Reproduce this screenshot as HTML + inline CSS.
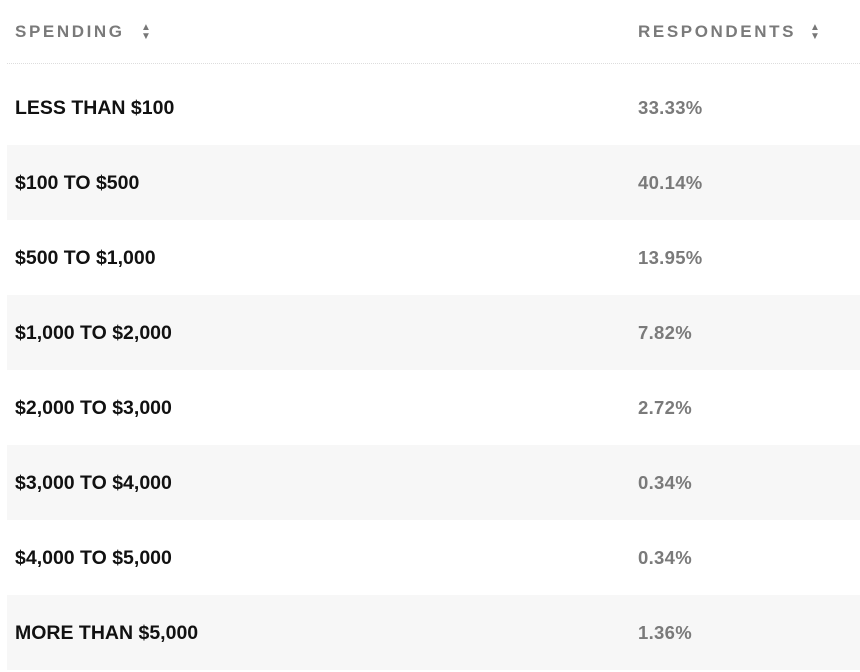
<!DOCTYPE html>
<html><head><meta charset="utf-8"><style>
body{margin:0;width:860px;height:672px;background:#fff;font-family:"Liberation Sans",Arial,sans-serif;position:relative;overflow:hidden}
.h{position:absolute;top:22px;font-size:17px;font-weight:bold;color:#7a7a7a;letter-spacing:2.6px}
.arr{position:absolute;top:1px;font-size:10px;line-height:9px;letter-spacing:0;color:#777}
.line{position:absolute;left:7px;right:0;top:63px;border-top:1px dotted #ddd}
.row{position:absolute;left:7px;right:0;height:75px}
.row.s{background:#f7f7f7}
.l{position:absolute;left:8px;top:27px;font-size:19.5px;font-weight:bold;color:#111;letter-spacing:0px}
.v{position:absolute;left:631px;top:27px;font-size:18.5px;font-weight:bold;color:#7a7a7a;letter-spacing:0.3px}
</style></head><body>
<div class="h" style="left:15px">SPENDING<span class="arr" style="left:126px">▲<br>▼</span></div>
<div class="h" style="left:638px">RESPONDENTS<span class="arr" style="left:172px">▲<br>▼</span></div>
<div class="line"></div>
<div class="row" style="top:70px"><span class="l">LESS THAN $100</span><span class="v">33.33%</span></div>
<div class="row s" style="top:145px"><span class="l">$100 TO $500</span><span class="v">40.14%</span></div>
<div class="row" style="top:220px"><span class="l">$500 TO $1,000</span><span class="v">13.95%</span></div>
<div class="row s" style="top:295px"><span class="l">$1,000 TO $2,000</span><span class="v">7.82%</span></div>
<div class="row" style="top:370px"><span class="l">$2,000 TO $3,000</span><span class="v">2.72%</span></div>
<div class="row s" style="top:445px"><span class="l">$3,000 TO $4,000</span><span class="v">0.34%</span></div>
<div class="row" style="top:520px"><span class="l">$4,000 TO $5,000</span><span class="v">0.34%</span></div>
<div class="row s" style="top:595px"><span class="l">MORE THAN $5,000</span><span class="v">1.36%</span></div>
</body></html>
